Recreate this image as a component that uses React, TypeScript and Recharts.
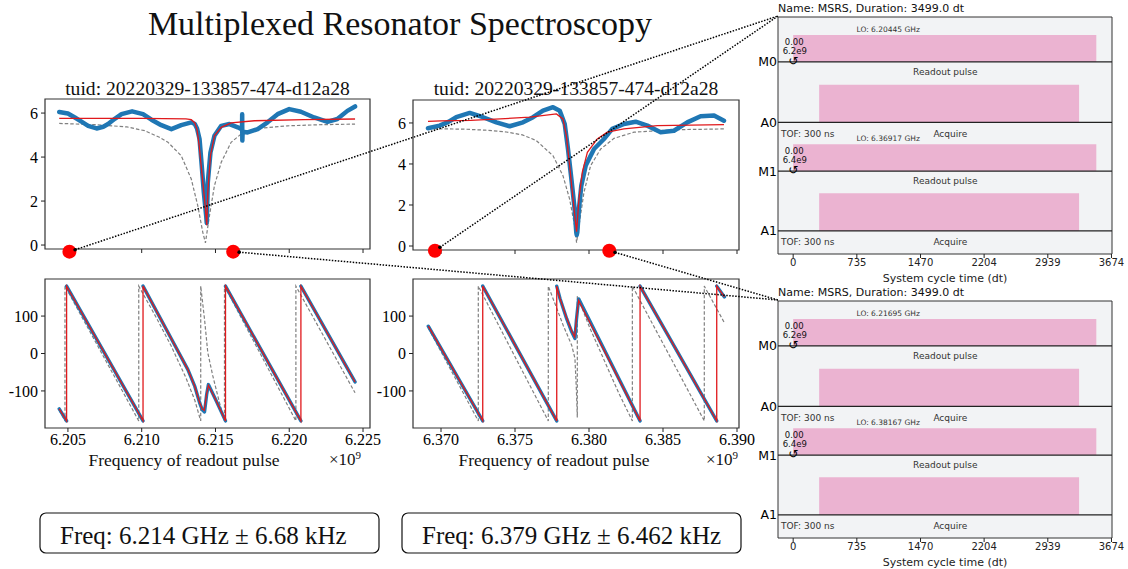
import React from 'react';
import { ComposedChart, Line, XAxis, YAxis, ReferenceDot, ReferenceArea } from 'recharts';

const SERIF = '"Liberation Serif", "DejaVu Serif", serif';
const SANS = '"DejaVu Sans", sans-serif';

type P = [number, number | null];
type XY = { f: number; v: number | null };
const pts = (a: P[]): XY[] => a.map(([f, v]) => ({ f, v }));

// ---------------- magnitude, resonator 0 ----------------
const mag0Data: P[] = [
  [6.20441, 6.05], [6.205, 5.98], [6.20547, 5.8], [6.206, 5.58], [6.20637, 5.42], [6.20694, 5.3],
  [6.2074, 5.38], [6.20772, 5.5], [6.2082, 5.75], [6.20863, 5.95], [6.20935, 6.08], [6.21009, 5.95],
  [6.21066, 5.7], [6.21133, 5.45], [6.21201, 5.27], [6.21268, 5.45], [6.21336, 5.58], [6.2136, 5.5],
  [6.21375, 5.3], [6.21392, 4.82], [6.21407, 3.6], [6.21421, 2.4], [6.21437, 1.33], [6.21441, 1.0],
  [6.21448, 2.85], [6.21466, 4.21], [6.21493, 4.97], [6.21539, 5.42], [6.21595, 5.5], [6.21651, 5.35],
  [6.2168, 5.25], [6.21681, 5.95], [6.21682, 4.75], [6.21684, 5.15], [6.21718, 5.12], [6.21786, 5.27],
  [6.21853, 5.58], [6.21921, 5.95], [6.22, 6.18], [6.22079, 6.06], [6.22169, 5.8], [6.22259, 5.6],
  [6.22326, 5.73], [6.22394, 6.1], [6.22446, 6.3],
];
const mag0Fit: P[] = [
  [6.20441, 5.76], [6.21, 5.76], [6.213, 5.74], [6.21336, 5.7], [6.2136, 5.55], [6.21375, 5.25],
  [6.2139, 4.5], [6.21403, 3.6], [6.21426, 2.09], [6.21441, 0.9], [6.21448, 2.4], [6.21466, 4.06],
  [6.21493, 4.97], [6.21539, 5.35], [6.21606, 5.55], [6.21764, 5.65], [6.22101, 5.7], [6.22446, 5.73],
];
const mag0Lorentz: P[] = [
  [6.20441, 5.53], [6.207, 5.47], [6.209, 5.37], [6.2102, 5.2], [6.2112, 4.9], [6.21178, 4.67],
  [6.21268, 4.06], [6.21336, 3.0], [6.2138, 1.79], [6.21414, 0.58], [6.21432, 0.1], [6.21459, 1.33],
  [6.21493, 2.7], [6.21539, 3.76], [6.21606, 4.67], [6.21674, 5.05], [6.21786, 5.3], [6.21989, 5.42],
  [6.222, 5.47], [6.22446, 5.5],
];

// ---------------- magnitude, resonator 1 ----------------
const mag1Data: P[] = [
  [6.36912, 5.74], [6.36991, 5.87], [6.3705, 6.05], [6.37103, 6.28], [6.37194, 6.49], [6.37284, 6.28],
  [6.37374, 6.03], [6.37464, 5.84], [6.37554, 6.03], [6.37622, 6.28], [6.37689, 6.6], [6.37757, 6.77],
  [6.37802, 6.6], [6.37836, 5.95], [6.37858, 4.73], [6.37881, 3.27], [6.37903, 1.8], [6.37914, 0.67],
  [6.37917, 0.54], [6.37921, 0.67], [6.37932, 1.8], [6.37948, 2.94], [6.37978, 3.92], [6.38034, 4.73],
  [6.38101, 5.22], [6.38157, 5.71], [6.38236, 5.95], [6.38315, 6.06], [6.38394, 5.87], [6.38484, 5.55],
  [6.38574, 5.62], [6.38664, 6.03], [6.38754, 6.33], [6.38845, 6.36], [6.38912, 6.11],
];
const mag1Fit: P[] = [
  [6.36912, 6.08], [6.37, 6.1], [6.372, 6.13], [6.374, 6.2], [6.376, 6.28], [6.3778, 6.44],
  [6.37824, 6.2], [6.37847, 5.38], [6.37869, 3.92], [6.37892, 2.29], [6.37916, 0.7], [6.37932, 2.29],
  [6.37955, 3.6], [6.37989, 4.57], [6.38056, 5.22], [6.38124, 5.55], [6.38236, 5.71], [6.38461, 5.87],
  [6.38912, 5.92],
];
const mag1Lorentz: P[] = [
  [6.36912, 5.72], [6.37149, 5.7], [6.373, 5.65], [6.37441, 5.56], [6.3755, 5.42], [6.37644, 5.14],
  [6.37757, 4.4], [6.37824, 3.43], [6.37869, 2.29], [6.37903, 0.99], [6.37916, 0.16], [6.37939, 1.32],
  [6.37966, 2.62], [6.38011, 3.92], [6.38079, 4.73], [6.38169, 5.25], [6.38304, 5.55], [6.38574, 5.67],
  [6.38912, 5.71],
];

// ---------------- phase, resonator 0 ----------------
const phase0Data: P[] = [
  [6.20441, -148], [6.20491, -180], [6.20491, null],
  [6.20491, 180], [6.21009, -180], [6.21009, null],
  [6.21009, 180], [6.2120, 40], [6.21313, -43], [6.2136, -88], [6.21392, -131], [6.2141, -150],
  [6.21426, -156], [6.2144, -110], [6.21452, -83], [6.215, -122], [6.21568, -180], [6.21568, null],
  [6.21568, 180], [6.22079, -180], [6.22079, null],
  [6.22079, 180], [6.22446, -76],
];
const phase0Fit: P[] = [
  [6.20441, -148], [6.20491, -180], [6.20491, 180], [6.21009, -180], [6.21009, 180], [6.212, 40],
  [6.21313, -43], [6.2136, -88], [6.21392, -130], [6.2141, -148], [6.21424, -152], [6.2144, -108],
  [6.21452, -85], [6.215, -122], [6.21568, -180], [6.21568, 180], [6.22079, -180], [6.22079, 180],
  [6.22446, -76],
];
const phase0Model: P[] = [
  [6.20441, -152], [6.2048, -180], [6.2048, 180], [6.2098, -180], [6.2098, 180], [6.211, 95],
  [6.212, 20], [6.213, -65], [6.2136, -125], [6.214, -180], [6.214, 180], [6.21426, 91],
  [6.21448, 2], [6.21482, -60], [6.21527, -131], [6.21561, -180], [6.21561, 180], [6.22045, -180],
  [6.22045, 180], [6.22446, -105],
];

// ---------------- phase, resonator 1 ----------------
const phase1Data: P[] = [
  [6.36914, 73], [6.37282, -180], [6.37282, null],
  [6.37282, 180], [6.37782, -180], [6.37782, null],
  [6.37782, 180], [6.37804, 147], [6.37849, 93], [6.37883, 58], [6.37905, 40], [6.37915, 90],
  [6.3793, 146], [6.38345, -180], [6.38345, null],
  [6.38345, 180], [6.38863, -180], [6.38863, null],
  [6.38863, 180], [6.38915, 151],
];
const phase1Fit: P[] = [
  [6.36914, 73], [6.37282, -180], [6.37282, 180], [6.37782, -180], [6.37782, 180], [6.37804, 147],
  [6.37849, 95], [6.37883, 60], [6.37903, 44], [6.37915, 92], [6.3793, 142], [6.38345, -180],
  [6.38345, 180], [6.38863, -180], [6.38863, 180], [6.38915, 151],
];
const phase1Model: P[] = [
  [6.36914, 68], [6.37252, -180], [6.37252, 180], [6.37725, -180], [6.37725, 180], [6.37826, 75],
  [6.37883, 22], [6.37905, -13], [6.37915, -100], [6.37921, -171], [6.37921, 153], [6.38007, 67],
  [6.38097, -13], [6.382, -105], [6.38293, -180], [6.38293, 180], [6.38779, -180], [6.38779, 180],
  [6.38915, 82],
];

// ---------------- markers, ticks, fit results ----------------
const mag0Markers: P[] = [[6.2051, -0.3], [6.2162, -0.3]];
const mag1Markers: P[] = [[6.36959, -0.23], [6.38137, -0.23]];
const xTicks0 = [6.205, 6.21, 6.215, 6.22, 6.225];
const xTicks1 = [6.37, 6.375, 6.38, 6.385, 6.39];
const magTicks = [0, 2, 4, 6];
const phaseTicks = [-100, 0, 100];
const tuid = '20220329-133857-474-d12a28';
const fitFreqGHz = [6.214, 6.379];
const fitUncKHz = ['6.68', '6.462'];

// ---------------- pulse schedules ----------------
const schedDuration = 3499.0;
const schedTicks = [0, 735, 1470, 2204, 2939, 3674];
const schedChannels = [
  { name: 'M0', y: -0.75, kind: 'M', freqLabel: '6.2e9' },
  { name: 'A0', y: -1.76, kind: 'A', freqLabel: '' },
  { name: 'M1', y: -2.575, kind: 'M', freqLabel: '6.4e9' },
  { name: 'A1', y: -3.575, kind: 'A', freqLabel: '' },
];
const readoutPulse = { start: 0, stop: 3499, amp: 0.45 };
const acquireWindow = { start: 300, stop: 3300, height: 0.63 };
const scheduleLO = [
  [6.20445, 6.36917],
  [6.21695, 6.38167],
];
const tofNs = 300;

// ---------------- layout ----------------
const BOX = {
  mag0: { left: 45, top: 99, width: 325, height: 150 },
  mag1: { left: 413, top: 100, width: 326, height: 150 },
  ph0: { left: 45, top: 279, width: 325, height: 149 },
  ph1: { left: 413, top: 279, width: 326, height: 149 },
};
const XDOM0: [number, number] = [6.203446, 6.225473];
const XDOM1: [number, number] = [6.368108, 6.390135];
const MAGDOM0: [number, number] = [-0.18, 6.64];
const MAGDOM1: [number, number] = [-0.195, 7.12];
const PHDOM: [number, number] = [-199, 199];
const SCHED = { left: 778, width: 334, height: 237 };
const SCHED_TOPS = [17, 301];
const SCHED_XDOM: [number, number] = [-175, 3680];
const SCHED_YDOM: [number, number] = [-3.96, 0];
const PINK = '#ebb3d1';

const emptyTick = () => <g />;

type PanelProps = {
  box: { left: number; top: number; width: number; height: number };
  xDomain: [number, number];
  yDomain: [number, number];
  xTicks: number[];
  yTicks: number[];
  showX: boolean;
  model: P[];
  data: P[];
  fit: P[];
  markers?: P[];
  dataWidth: number;
};

function Panel({ box, xDomain, yDomain, xTicks, yTicks, showX, model, data, fit, markers, dataWidth }: PanelProps) {
  const YW = 50, MT = 3, MR = 24, XH = 26;
  return (
    <div style={{ position: 'absolute', left: box.left - YW, top: box.top - MT }}>
      <ComposedChart width={YW + box.width + MR} height={MT + box.height + XH} margin={{ top: MT, right: MR, bottom: 0, left: 0 }}>
        <XAxis
          type="number"
          dataKey="f"
          domain={xDomain}
          ticks={xTicks}
          interval={0}
          height={XH}
          axisLine={false}
          tickLine={{ stroke: '#222' }}
          tickSize={4}
          tickMargin={2}
          tick={showX ? { fontSize: 16, fontFamily: SERIF, fill: '#000' } : emptyTick}
          tickFormatter={(t: number) => t.toFixed(3)}
        />
        <YAxis
          type="number"
          domain={yDomain}
          ticks={yTicks}
          interval={0}
          width={YW}
          axisLine={false}
          tickLine={{ stroke: '#222' }}
          tickSize={4}
          tickMargin={3}
          tick={{ fontSize: 16, fontFamily: SERIF, fill: '#000' }}
        />
        <Line data={pts(model)} dataKey="v" stroke="#808080" strokeWidth={1.2} strokeDasharray="3.5 2" dot={false} activeDot={false} isAnimationActive={false} />
        <Line data={pts(data)} dataKey="v" stroke="#1f77b4" strokeWidth={dataWidth} strokeLinecap="round" strokeLinejoin="round" dot={false} activeDot={false} isAnimationActive={false} />
        <Line data={pts(fit)} dataKey="v" stroke="#e0191c" strokeWidth={1.3} dot={false} activeDot={false} isAnimationActive={false} />
        <ReferenceArea x1={xDomain[0]} x2={xDomain[1]} y1={yDomain[0]} y2={yDomain[1]} fill="none" fillOpacity={0} stroke="#333" strokeWidth={1.2} ifOverflow="visible" />
        {(markers || []).map(([f, v]) => (
          <ReferenceDot key={f} x={f} y={v as number} r={7} fill="#ff0000" stroke="none" ifOverflow="visible" />
        ))}
      </ComposedChart>
    </div>
  );
}

function Schedule({ top, lo }: { top: number; lo: number[] }) {
  const YW = 22, MT = 1, MR = 16, XH = 36;
  const txt = { fontFamily: SANS, fill: '#333' };
  let mIdx = 0;
  return (
    <div style={{ position: 'absolute', left: SCHED.left - YW, top: top - MT }}>
      <ComposedChart width={YW + SCHED.width + MR} height={MT + SCHED.height + XH} margin={{ top: MT, right: MR, bottom: 0, left: 0 }}>
        <XAxis
          type="number"
          dataKey="t"
          domain={SCHED_XDOM}
          ticks={schedTicks}
          interval={0}
          height={XH}
          axisLine={false}
          tickLine={{ stroke: '#222' }}
          tickSize={4}
          tickMargin={1}
          tick={{ fontSize: 10, fontFamily: SANS, fill: '#222' }}
          label={{ value: 'System cycle time (dt)', position: 'insideBottom', offset: 8, fontSize: 11, fontFamily: SANS, fill: '#222' }}
        />
        <YAxis
          type="number"
          dataKey="y"
          domain={SCHED_YDOM}
          ticks={schedChannels.map((c) => c.y)}
          interval={0}
          width={YW}
          axisLine={false}
          tickLine={false}
          tickSize={0}
          tickMargin={1}
          tick={{ fontSize: 12.5, fontFamily: SANS, fill: '#000' }}
          tickFormatter={(v: number) => schedChannels.find((c) => Math.abs(c.y - v) < 1e-6)?.name ?? ''}
        />
        <ReferenceArea x1={SCHED_XDOM[0]} x2={SCHED_XDOM[1]} y1={SCHED_YDOM[0]} y2={SCHED_YDOM[1]} fill="#f2f3f5" fillOpacity={1} stroke="none" />
        {schedChannels.map((c) =>
          c.kind === 'M' ? (
            <ReferenceArea key={'p' + c.name} x1={readoutPulse.start} x2={readoutPulse.stop} y1={c.y} y2={c.y + readoutPulse.amp} fill={PINK} fillOpacity={1} stroke="none" />
          ) : (
            <ReferenceArea key={'p' + c.name} x1={acquireWindow.start} x2={acquireWindow.stop} y1={c.y} y2={c.y + acquireWindow.height} fill={PINK} fillOpacity={1} stroke="none" />
          )
        )}
        {schedChannels.map((c) => (
          <Line
            key={'l' + c.name}
            data={[{ t: SCHED_XDOM[0], y: c.y }, { t: SCHED_XDOM[1], y: c.y }]}
            dataKey="y"
            stroke="#222"
            strokeWidth={1.2}
            dot={false}
            activeDot={false}
            isAnimationActive={false}
          />
        ))}
        {schedChannels.flatMap((c) => {
          if (c.kind === 'M') {
            const loVal = lo[mIdx++];
            return [
              <ReferenceDot key={'lo' + c.name} x={1097} y={c.y + 0.55} r={0.01} fill="none" stroke="none" label={{ value: `LO: ${loVal.toFixed(5)} GHz`, position: 'center', fontSize: 7.5, ...txt }} />,
              <ReferenceDot key={'ph' + c.name} x={12} y={c.y + 0.33} r={0.01} fill="none" stroke="none" label={{ value: '0.00', position: 'center', fontSize: 8.5, fontFamily: SANS, fill: '#111' }} />,
              <ReferenceDot key={'fq' + c.name} x={18} y={c.y + 0.18} r={0.01} fill="none" stroke="none" label={{ value: c.freqLabel, position: 'center', fontSize: 8.5, fontFamily: SANS, fill: '#111' }} />,
              <ReferenceDot key={'sy' + c.name} x={2} y={c.y + 0.02} r={0.01} fill="none" stroke="none" label={{ value: '↺', position: 'center', fontSize: 12, fontFamily: SANS, fill: '#000' }} />,
              <ReferenceDot key={'rp' + c.name} x={1756} y={c.y - 0.17} r={0.01} fill="none" stroke="none" label={{ value: 'Readout pulse', position: 'center', fontSize: 9, ...txt }} />,
            ];
          }
          return [
            <ReferenceDot key={'tof' + c.name} x={168} y={c.y - 0.185} r={0.01} fill="none" stroke="none" label={{ value: `TOF: ${tofNs} ns`, position: 'center', fontSize: 9, ...txt }} />,
            <ReferenceDot key={'aq' + c.name} x={1814} y={c.y - 0.185} r={0.01} fill="none" stroke="none" label={{ value: 'Acquire', position: 'center', fontSize: 9, ...txt }} />,
          ];
        })}
        <ReferenceArea x1={SCHED_XDOM[0]} x2={SCHED_XDOM[1]} y1={SCHED_YDOM[0]} y2={SCHED_YDOM[1]} fill="none" fillOpacity={0} stroke="#333" strokeWidth={1} ifOverflow="visible" />
      </ComposedChart>
    </div>
  );
}

function toPx(box: PanelProps['box'], xd: [number, number], yd: [number, number], f: number, v: number) {
  return {
    x: box.left + ((f - xd[0]) / (xd[1] - xd[0])) * box.width,
    y: box.top + ((yd[1] - v) / (yd[1] - yd[0])) * box.height,
  };
}

export default function App() {
  const connectors: { from: { x: number; y: number }; to: { x: number; y: number } }[] = [];
  const targets = SCHED_TOPS.map((t) => ({ x: SCHED.left, y: t - 1 }));
  mag0Markers.forEach(([f, v], i) => connectors.push({ from: toPx(BOX.mag0, XDOM0, MAGDOM0, f, v as number), to: targets[i] }));
  mag1Markers.forEach(([f, v], i) => connectors.push({ from: toPx(BOX.mag1, XDOM1, MAGDOM1, f, v as number), to: targets[i] }));

  return (
    <div style={{ position: 'absolute', left: 0, top: 0, width: 1128, height: 569, background: '#fff', overflow: 'hidden' }}>
      <Panel box={BOX.mag0} xDomain={XDOM0} yDomain={MAGDOM0} xTicks={xTicks0} yTicks={magTicks} showX={false}
        model={mag0Lorentz} data={mag0Data} fit={mag0Fit} markers={mag0Markers} dataWidth={4.5} />
      <Panel box={BOX.mag1} xDomain={XDOM1} yDomain={MAGDOM1} xTicks={xTicks1} yTicks={magTicks} showX={false}
        model={mag1Lorentz} data={mag1Data} fit={mag1Fit} markers={mag1Markers} dataWidth={4.5} />
      <Panel box={BOX.ph0} xDomain={XDOM0} yDomain={PHDOM} xTicks={xTicks0} yTicks={phaseTicks} showX={true}
        model={phase0Model} data={phase0Data} fit={phase0Fit} dataWidth={3.4} />
      <Panel box={BOX.ph1} xDomain={XDOM1} yDomain={PHDOM} xTicks={xTicks1} yTicks={phaseTicks} showX={true}
        model={phase1Model} data={phase1Data} fit={phase1Fit} dataWidth={3.4} />

      {SCHED_TOPS.map((t, i) => (
        <React.Fragment key={t}>
          <Schedule top={t} lo={scheduleLO[i]} />
          <div style={{ position: 'absolute', left: SCHED.left, top: t - 15, fontFamily: SANS, fontSize: 11, lineHeight: '14px', color: '#111', whiteSpace: 'nowrap' }}>
            {`Name: MSRS, Duration: ${schedDuration.toFixed(1)} dt`}
          </div>
        </React.Fragment>
      ))}

      <svg width={1128} height={569} style={{ position: 'absolute', left: 0, top: 0, pointerEvents: 'none' }}>
        <text x={400} y={35} textAnchor="middle" fontFamily={SERIF} fontSize={34} fill="#111">Multiplexed Resonator Spectroscopy</text>
        <text x={207.5} y={95} textAnchor="middle" fontFamily={SERIF} fontSize={19.6} fill="#111">{`tuid: ${tuid}`}</text>
        <text x={576} y={95} textAnchor="middle" fontFamily={SERIF} fontSize={19.6} fill="#111">{`tuid: ${tuid}`}</text>
        <text x={184} y={466} textAnchor="middle" fontFamily={SERIF} fontSize={17.5} fill="#111">Frequency of readout pulse</text>
        <text x={554} y={466} textAnchor="middle" fontFamily={SERIF} fontSize={17.5} fill="#111">Frequency of readout pulse</text>
        {[329, 706].map((x) => (
          <text key={x} x={x} y={465} fontFamily={SERIF} fontSize={17} fill="#111">
            ×10<tspan dy={-6} fontSize={11}>9</tspan>
          </text>
        ))}
        {fitFreqGHz.map((fq, i) => {
          const bx = i === 0 ? 40 : 402;
          return (
            <g key={i}>
              <rect x={bx} y={513} width={339} height={40} rx={6} ry={6} fill="#fff" stroke="#111" strokeWidth={1.2} />
              <text x={bx + 20} y={544} fontFamily={SERIF} fontSize={25} fill="#111">
                {`Freq: ${fq.toFixed(3)} GHz ± ${fitUncKHz[i]} kHz`}
              </text>
            </g>
          );
        })}
        {connectors.map((c, i) => {
          const dx = c.to.x - c.from.x, dy = c.to.y - c.from.y;
          const len = Math.hypot(dx, dy);
          const sx = c.from.x + (dx / len) * 6, sy = c.from.y + (dy / len) * 6;
          return (
            <g key={i}>
              <line x1={sx} y1={sy} x2={c.to.x} y2={c.to.y} stroke="#000" strokeWidth={1.5} strokeDasharray="1.5 1.5" />
              <circle cx={sx} cy={sy} r={1.8} fill="#000" />
            </g>
          );
        })}
      </svg>
    </div>
  );
}
